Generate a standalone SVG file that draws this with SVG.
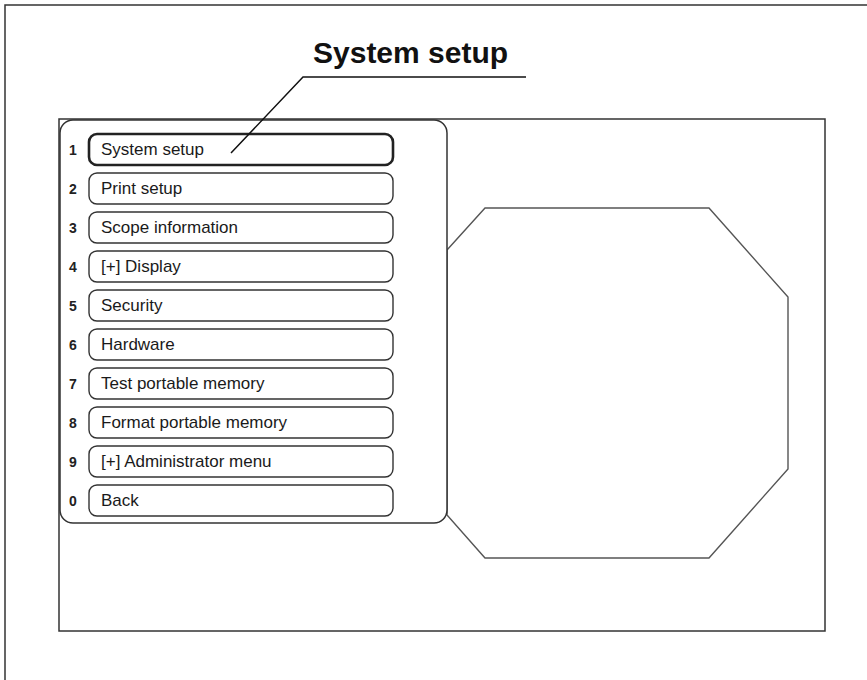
<svg xmlns="http://www.w3.org/2000/svg" width="867" height="680" viewBox="0 0 867 680">
  <style>
    .frame { fill: none; stroke: #333; stroke-width: 1.5; }
    .panel { fill: #fff; stroke: #333; stroke-width: 1.5; }
    .btn { fill: #fff; stroke: #333; stroke-width: 1.4; }
    .btn-sel { fill: #fff; stroke: #222; stroke-width: 2.6; }
    .oct { fill: #fff; stroke: #555; stroke-width: 1.4; }
    .num { font-family: "Liberation Sans", Arial, sans-serif; font-size: 14px; font-weight: bold; fill: #222; text-anchor: middle; }
    .lbl { font-family: "Liberation Sans", Arial, sans-serif; font-size: 17px; fill: #1a1a1a; }
    .title { font-family: "Liberation Sans", Arial, sans-serif; font-size: 30px; font-weight: bold; fill: #111; }
    .leader { fill: none; stroke: #111; stroke-width: 1.5; }
  </style>
  <rect width="867" height="680" fill="#fff"/>

  <!-- outer page frame -->
  <path class="frame" d="M5,680 V5 H867"/>

  <!-- screen area -->
  <g id="screen">
    <rect class="frame" x="59" y="119" width="766" height="512"/>
  </g>

  <!-- octagonal viewing window -->
  <g id="window">
    <polygon class="oct" points="447,250 485,208 709,208 788,297 788,469 709,558 485,558 447,515"/>
  </g>

  <!-- menu panel -->
  <g id="menu">
    <rect class="panel" x="60" y="120" width="387" height="403" rx="13" ry="13"/>
  </g>

  <g id="item1">
    <text class="num" x="73" y="155">1</text>
    <rect class="btn-sel" x="89" y="134" width="304" height="31" rx="8"/>
    <text class="lbl" x="101" y="155">System setup</text>
  </g>
  <g id="item2">
    <text class="num" x="73" y="194">2</text>
    <rect class="btn" x="89" y="173" width="304" height="31" rx="8"/>
    <text class="lbl" x="101" y="194">Print setup</text>
  </g>
  <g id="item3">
    <text class="num" x="73" y="233">3</text>
    <rect class="btn" x="89" y="212" width="304" height="31" rx="8"/>
    <text class="lbl" x="101" y="233">Scope information</text>
  </g>
  <g id="item4">
    <text class="num" x="73" y="272">4</text>
    <rect class="btn" x="89" y="251" width="304" height="31" rx="8"/>
    <text class="lbl" x="101" y="272">[+] Display</text>
  </g>
  <g id="item5">
    <text class="num" x="73" y="311">5</text>
    <rect class="btn" x="89" y="290" width="304" height="31" rx="8"/>
    <text class="lbl" x="101" y="311">Security</text>
  </g>
  <g id="item6">
    <text class="num" x="73" y="350">6</text>
    <rect class="btn" x="89" y="329" width="304" height="31" rx="8"/>
    <text class="lbl" x="101" y="350">Hardware</text>
  </g>
  <g id="item7">
    <text class="num" x="73" y="389">7</text>
    <rect class="btn" x="89" y="368" width="304" height="31" rx="8"/>
    <text class="lbl" x="101" y="389">Test portable memory</text>
  </g>
  <g id="item8">
    <text class="num" x="73" y="428">8</text>
    <rect class="btn" x="89" y="407" width="304" height="31" rx="8"/>
    <text class="lbl" x="101" y="428">Format portable memory</text>
  </g>
  <g id="item9">
    <text class="num" x="73" y="467">9</text>
    <rect class="btn" x="89" y="446" width="304" height="31" rx="8"/>
    <text class="lbl" x="101" y="467">[+] Administrator menu</text>
  </g>
  <g id="item0">
    <text class="num" x="73" y="506">0</text>
    <rect class="btn" x="89" y="485" width="304" height="31" rx="8"/>
    <text class="lbl" x="101" y="506">Back</text>
  </g>

  <!-- callout -->
  <g id="callout">
    <text class="title" x="313" y="63">System setup</text>
  </g>
  <g id="connectors">
    <polyline class="leader" points="526,77 303,77 231,153"/>
  </g>
</svg>
